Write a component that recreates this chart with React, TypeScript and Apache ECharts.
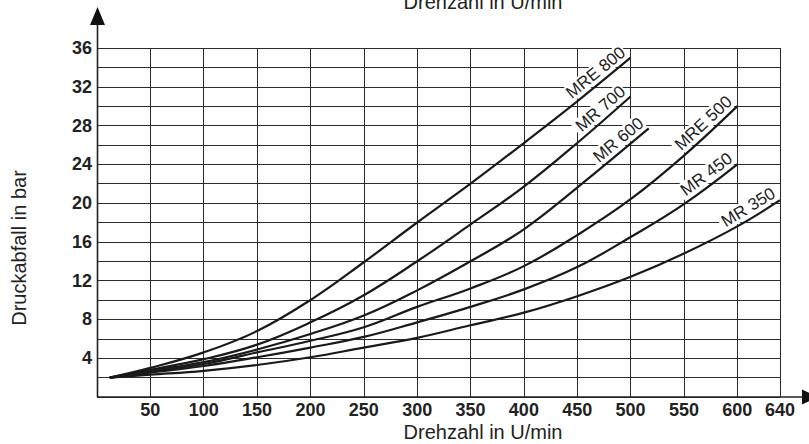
import React, { useEffect, useRef } from "react";
import * as echarts from "echarts";

const xTickLabels = [50, 100, 150, 200, 250, 300, 350, 400, 450, 500, 550, 600, 640];
const yTickLabels = [4, 8, 12, 16, 20, 24, 28, 32, 36];

const seriesNames = ["MRE 800", "MR 700", "MR 600", "MRE 500", "MR 450", "MR 350"];

const mre800 = [[12, 2.0], [50, 3.0], [100, 4.6], [150, 6.8], [200, 10.0], [250, 13.9], [300, 18.0], [350, 22.0], [400, 26.2], [450, 30.5], [500, 35.0]];
const mr700 = [[12, 2.0], [50, 2.8], [100, 3.9], [150, 5.4], [200, 7.7], [250, 10.5], [300, 14.0], [350, 17.8], [400, 21.7], [450, 26.2], [500, 31.0]];
const mr600 = [[12, 2.0], [50, 2.7], [100, 3.6], [150, 4.9], [200, 6.5], [250, 8.4], [300, 11.0], [350, 14.0], [400, 17.3], [450, 21.6], [517, 27.7]];
const mre500 = [[12, 2.0], [50, 2.6], [100, 3.4], [150, 4.6], [200, 5.8], [250, 7.2], [300, 9.3], [350, 11.2], [400, 13.5], [450, 16.7], [500, 20.4], [550, 24.9], [600, 30.0]];
const mr450 = [[12, 2.0], [50, 2.5], [100, 3.2], [150, 4.1], [200, 5.1], [250, 6.2], [300, 7.7], [350, 9.3], [400, 11.1], [450, 13.4], [500, 16.5], [550, 19.9], [600, 24.0]];
const mr350 = [[12, 2.0], [50, 2.3], [100, 2.7], [150, 3.3], [200, 4.1], [250, 5.1], [300, 6.1], [350, 7.4], [400, 8.7], [450, 10.4], [500, 12.4], [550, 14.8], [600, 17.6], [640, 20.3]];

const seriesData = [mre800, mr700, mr600, mre500, mr450, mr350];

const FONT = '"Liberation Sans", Arial, Helvetica, sans-serif';

export default function App() {
  const ref = useRef<HTMLDivElement>(null);

  useEffect(() => {
    if (!ref.current) return;
    const chart = echarts.init(ref.current, null, { renderer: "svg" });
    const option: any = {
      animation: false,
      backgroundColor: "#ffffff",
      grid: { left: 97, right: 29, top: 48, bottom: 47 },
      xAxis: {
        type: "value",
        min: 0,
        max: 640,
        interval: 50,
        axisLine: { show: false },
        axisTick: { show: false },
        splitLine: { show: true, lineStyle: { color: "#2a2a2a", width: 1 } },
        axisLabel: {
          fontFamily: FONT,
          fontSize: 18,
          fontWeight: "bold",
          color: "#222",
          margin: 4,
          formatter: (v: number) => (xTickLabels.includes(v) ? String(v) : ""),
        },
      },
      yAxis: {
        type: "value",
        min: 0,
        max: 36,
        interval: 2,
        axisLine: { show: false },
        axisTick: { show: false },
        splitLine: { show: true, lineStyle: { color: "#2a2a2a", width: 1 } },
        axisLabel: {
          fontFamily: FONT,
          fontSize: 18,
          fontWeight: "bold",
          color: "#222",
          margin: 5,
          formatter: (v: number) => (yTickLabels.includes(v) ? String(v) : ""),
        },
      },
      series: seriesData.map((d, i) => ({
        name: seriesNames[i],
        type: "line",
        data: d,
        smooth: 0.4,
        showSymbol: false,
        symbol: "none",
        lineStyle: { color: "#1a1a1a", width: 2.2 },
        z: 3,
      })),
    };
    chart.setOption(option);

    const graphics: any[] = [];
    seriesData.forEach((d, i) => {
      const last = d[d.length - 1];
      const prev = d[d.length - 2];
      const p1 = chart.convertToPixel({ gridIndex: 0 }, last) as number[];
      const p0 = chart.convertToPixel({ gridIndex: 0 }, prev) as number[];
      const angle = Math.atan2(p0[1] - p1[1], p1[0] - p0[0]);
      graphics.push({
        type: "text",
        x: p1[0] - 2 * Math.sin(angle),
        y: p1[1] - 2 * Math.cos(angle),
        rotation: angle,
        z: 10,
        style: {
          text: seriesNames[i],
          font: `17px ${FONT}`,
          fill: "#222",
          align: "right",
          verticalAlign: "bottom",
          backgroundColor: "#ffffff",
          padding: [0, 1, 0, 3],
        },
      });
    });

    const o = chart.convertToPixel({ gridIndex: 0 }, [0, 0]) as number[];
    const x0 = Math.round(o[0]) + 0.5;
    const y0 = Math.round(o[1]);
    // axis lines with arrows
    graphics.push({
      type: "line",
      z: 20,
      shape: { x1: x0, y1: y0, x2: x0, y2: 22 },
      style: { stroke: "#222", lineWidth: 1.6 },
    });
    graphics.push({
      type: "polygon",
      z: 20,
      shape: { points: [[x0, 7], [x0 - 7.5, 25], [x0 + 7.5, 25]] },
      style: { fill: "#111" },
    });
    graphics.push({
      type: "line",
      z: 20,
      shape: { x1: x0, y1: y0, x2: 805, y2: y0 },
      style: { stroke: "#222", lineWidth: 1.6 },
    });
    graphics.push({
      type: "polygon",
      z: 20,
      shape: { points: [[802, y0 - 7.5], [802, y0 + 7.5], [818, y0]] },
      style: { fill: "#111" },
    });
    // titles
    graphics.push({
      type: "text",
      x: 483,
      y: 432,
      style: {
        text: "Drehzahl in U/min",
        font: `20px ${FONT}`,
        fill: "#222",
        align: "center",
        verticalAlign: "middle",
      },
    });
    graphics.push({
      type: "text",
      x: 483,
      y: 2,
      style: {
        text: "Drehzahl in U/min",
        font: `20px ${FONT}`,
        fill: "#222",
        align: "center",
        verticalAlign: "middle",
      },
    });
    graphics.push({
      type: "text",
      x: 19,
      y: 248,
      rotation: Math.PI / 2,
      style: {
        text: "Druckabfall in bar",
        font: `20px ${FONT}`,
        fill: "#222",
        align: "center",
        verticalAlign: "middle",
      },
    });

    chart.setOption({ graphic: graphics });

    return () => {
      chart.dispose();
    };
  }, []);

  return (
    <div
      ref={ref}
      style={{ position: "absolute", left: 0, top: 0, width: 809, height: 444, background: "#fff" }}
    />
  );
}
